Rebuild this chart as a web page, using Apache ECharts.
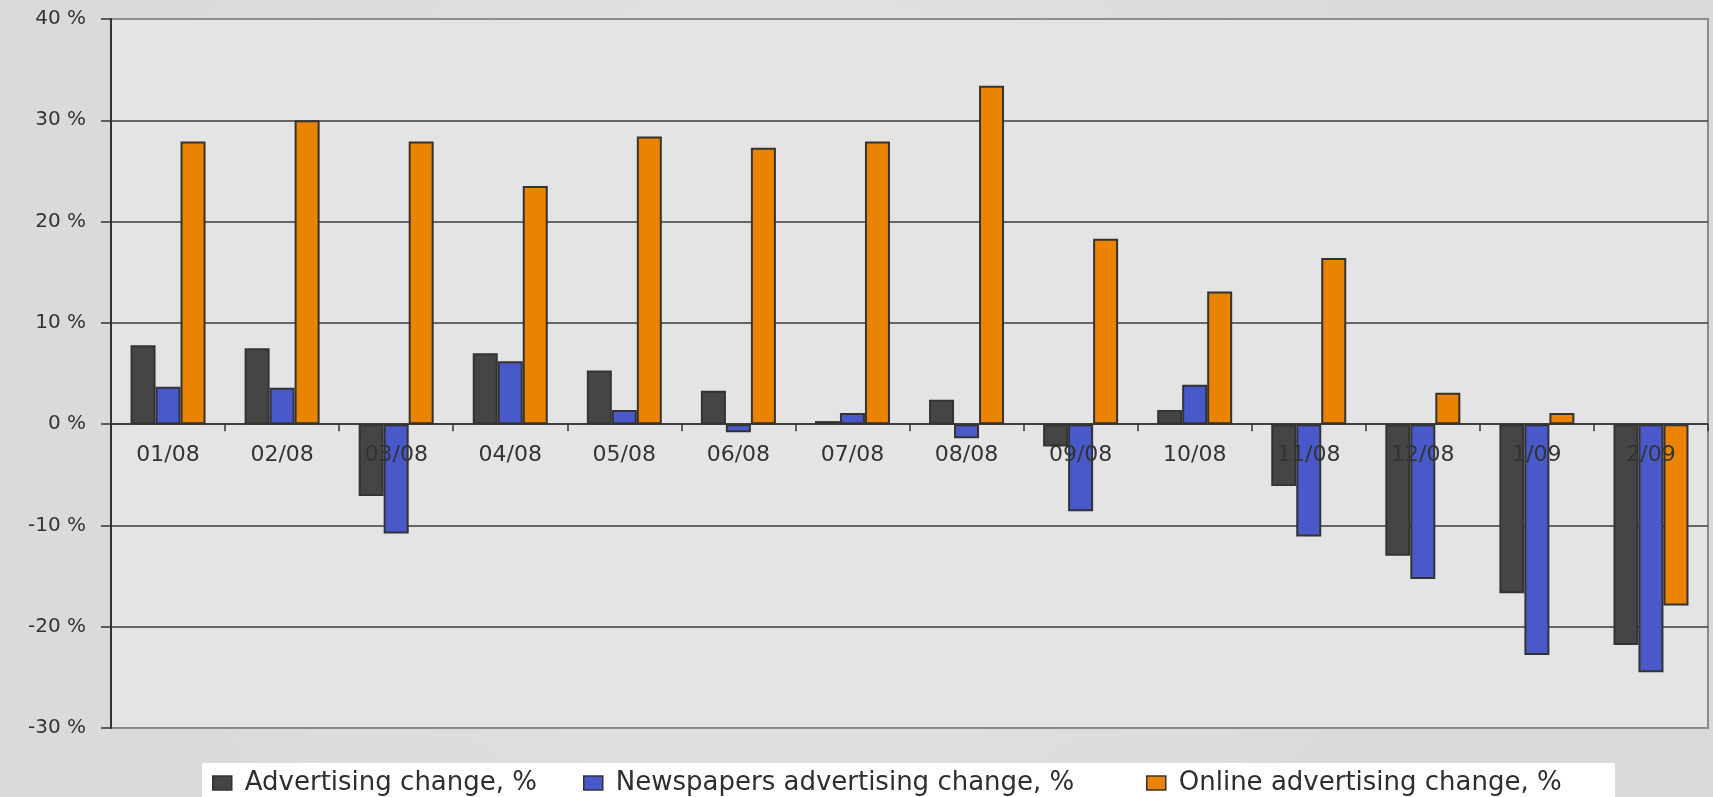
<!DOCTYPE html>
<html>
<head>
<meta charset="utf-8">
<title>Advertising change</title>
<script src="https://cdn.jsdelivr.net/npm/echarts@6/dist/echarts.min.js"></script>
<style>
  html, body { margin: 0; padding: 0; }
  #chart { width: 1713px; height: 797px; }
</style>
</head>
<body>
<div id="chart"></div>
<script>
// categories (month/year)
const categories = ['01/08', '02/08', '03/08', '04/08', '05/08', '06/08', '07/08', '08/08', '09/08', '10/08', '11/08', '12/08', '1/09', '2/09'];
const seriesNames = ['Advertising change, %', 'Newspapers advertising change, %', 'Online advertising change, %'];
// values, %
const advertising = [7.8, 7.5, -7.1, 7.0, 5.3, 3.3, 0.3, 2.4, -2.2, 1.4, -6.1, -13.0, -16.7, -21.8];
const newspapers = [3.7, 3.6, -10.8, 6.2, 1.4, -0.8, 1.1, -1.4, -8.6, 3.9, -11.1, -15.3, -22.8, -24.5];
const online = [27.9, 30.0, 27.9, 23.5, 28.4, 27.3, 27.9, 33.4, 18.3, 13.1, 16.4, 3.1, 1.1, -17.9];
// y axis
const yMin = -30;
const yMax = 40;
const yStep = 10;

const chart = echarts.init(document.getElementById('chart'));
const font = 'DejaVu Sans';
const colors = ['#454545', '#4a59c9', '#e98300'];
const legendLefts = [212, 583, 1146];
const gridTop = 19;
const gridBottom = 69;
const gridHeight = 797 - gridTop - gridBottom;
// x轴放在0值处（含标签）
const zeroOffset = -(0 - yMin) / (yMax - yMin) * gridHeight;

const bar = function (name, data, color) {
  return {
    name: name,
    type: 'bar',
    data: data,
    barWidth: 25,
    barGap: '0%',
    itemStyle: {
      color: color,
      borderColor: '#333',
      borderWidth: 2
    }
  };
};

const option = {
  backgroundColor: {
    type: 'radial', x: 0.45, y: 0.45, r: 0.85,
    colorStops: [{ offset: 0, color: '#e6e6e6' }, { offset: 1, color: '#dadada' }]
  },
  color: colors,
  //白色图例底框
  graphic: [{
    type: 'rect',
    z: 0,
    shape: { x: 202, y: 763, width: 1413, height: 40 },
    style: { fill: '#ffffff' }
  }],
  legend: seriesNames.map(function (name, i) {
    return {
      data: [name],
      left: legendLefts[i],
      top: 769,
      padding: 0,
      itemWidth: 19,
      itemHeight: 14,
      icon: 'rect',
      itemStyle: { borderColor: '#333', borderWidth: 1.5 },
      textStyle: {
        fontFamily: font,
        fontSize: 26,
        color: '#2e2e2e',
        lineHeight: 28,
        padding: [0, 0, 0, 8]
      },
      selectedMode: false
    };
  }),
  grid: {
    left: 111,
    right: 5,
    top: gridTop,
    bottom: gridBottom,
    show: true,
    backgroundColor: '#e4e4e4',
    borderColor: '#8c8c8c',
    borderWidth: 2
  },
  xAxis: {
    type: 'category',
    data: categories,
    z: 3,
    offset: zeroOffset,
    axisLine: { onZero: false, lineStyle: { color: '#333', width: 1.5 } },
    axisTick: { show: true, length: 7, lineStyle: { color: '#333', width: 1.5 } },
    axisLabel: {
      fontFamily: font,
      fontSize: 22,
      color: '#333',
      margin: 20,
      interval: 0
    }
  },
  yAxis: {
    type: 'value',
    min: yMin,
    max: yMax,
    interval: yStep,
    axisLine: { show: true, lineStyle: { color: '#333', width: 2 } },
    axisTick: { show: true, length: 10, lineStyle: { color: '#333', width: 1.5 } },
    axisLabel: {
      fontFamily: font,
      fontSize: 20,
      color: '#333',
      margin: 25,
      formatter: '{value} %'
    },
    splitLine: {
      show: true,
      showMinLine: false,
      showMaxLine: false,
      lineStyle: { color: '#3c3c3c', width: 1.5 }
    }
  },
  series: [
    bar(seriesNames[0], advertising, colors[0]),
    bar(seriesNames[1], newspapers, colors[1]),
    bar(seriesNames[2], online, colors[2])
  ]
};
chart.setOption(option);
</script>
</body>
</html>
